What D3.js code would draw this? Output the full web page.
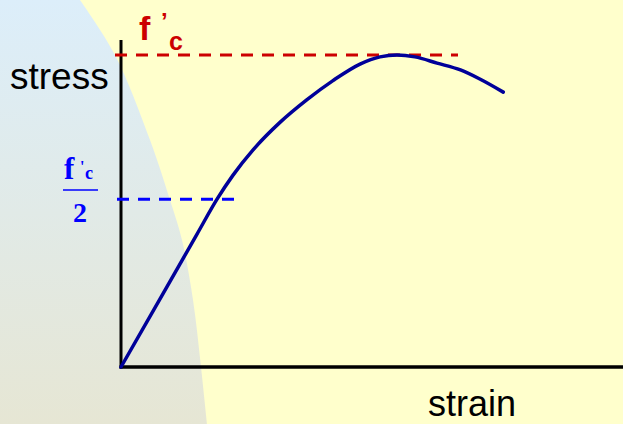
<!DOCTYPE html>
<html><head><meta charset="utf-8">
<script src="https://cdn.jsdelivr.net/npm/d3@7"></script>
<style>html,body{margin:0;padding:0;overflow:hidden;background:#FFFFCC}</style>
</head><body>
<svg id="c" width="623" height="424"></svg>
<script>
// data: stress as fraction of f'c, strain
const strain = [0, 0.000283, 0.000551, 0.000696, 0.000812, 0.000957, 0.001152, 0.001348, 0.001536, 0.001732, 0.001877, 0.002, 0.00213, 0.00229, 0.00246, 0.0026, 0.00277];
const stress = [0, 0.218, 0.426, 0.538, 0.615, 0.696, 0.784, 0.857, 0.918, 0.971, 0.994, 1.0, 0.994, 0.974, 0.952, 0.923, 0.881];
const fcLevels = [1, 0.538];
const axisLabels = ["stress", "strain"];

const svg = d3.select("#c");
const W = 623, H = 424;
const x = d3.scaleLinear().domain([0, 0.0036377]).range([121, 623]);
const y = d3.scaleLinear().domain([0, 1]).range([367, 55]);

// background
const defs = svg.append("defs");
const g = defs.append("linearGradient").attr("id","bg").attr("x1",0).attr("y1",0).attr("x2",0).attr("y2",1);
g.append("stop").attr("offset","0%").attr("stop-color","#DCEEFA");
g.append("stop").attr("offset","100%").attr("stop-color","#E6E6D4");
svg.append("rect").attr("width",W).attr("height",H).attr("fill","#FFFFCC");
const bpts = [[80,0],[115,55],[150,140],[170,200],[182,240],[193,300],[201,367],[207,424]];
const bline = d3.line().curve(d3.curveCatmullRom);
svg.append("path").attr("d", "M0,0 L" + bline(bpts).slice(1) + " L0,424 Z").attr("fill","url(#bg)");

// axes
svg.append("line").attr("x1",x(0)).attr("x2",x(0)).attr("y1",40).attr("y2",y(0)+1.5).attr("stroke","#000").attr("stroke-width",3);
svg.append("line").attr("x1",x(0)-1.5).attr("x2",W).attr("y1",y(0)).attr("y2",y(0)).attr("stroke","#000").attr("stroke-width",3.5);

// dashed reference lines
svg.append("line").attr("x1",115).attr("x2",458).attr("y1",y(fcLevels[0])).attr("y2",y(fcLevels[0]))
  .attr("stroke","#CC0000").attr("stroke-width",3).attr("stroke-dasharray","12,9");
svg.append("line").attr("x1",117).attr("x2",235).attr("y1",y(fcLevels[1])).attr("y2",y(fcLevels[1]))
  .attr("stroke","#0000FF").attr("stroke-width",3).attr("stroke-dasharray","12,9");

// curve
const data = strain.map((s,i)=>[s, stress[i]]);
svg.append("path").datum(data)
  .attr("d", d3.line().x(d=>x(d[0])).y(d=>y(d[1])).curve(d3.curveMonotoneX))
  .attr("fill","none").attr("stroke","#000099").attr("stroke-width",3.5).attr("stroke-linecap","round");

// labels
svg.append("text").attr("x",10).attr("y",89).attr("font-family","Liberation Sans, Arial").attr("font-size",37).attr("fill","#000").text(axisLabels[0]);
svg.append("text").attr("x",428).attr("y",416).attr("font-family","Liberation Sans, Arial").attr("font-size",36).attr("fill","#000").text(axisLabels[1]);

// f'c red
const red = svg.append("g").attr("fill","#CC0000").attr("font-family","Liberation Sans, Arial").attr("font-weight","bold");
red.append("text").attr("x",139).attr("y",40).attr("font-size",34).text("f");
red.append("text").attr("x",161).attr("y",30).attr("font-size",24).text("’");
red.append("text").attr("x",169).attr("y",50).attr("font-size",25).text("c");

// blue fraction
const blue = svg.append("g").attr("fill","#0000FF").attr("font-family","Liberation Serif, Times New Roman").attr("font-weight","bold");
blue.append("text").attr("x",64).attr("y",179).attr("font-size",31).text("f");
blue.append("text").attr("x",80).attr("y",172).attr("font-size",16).text("'");
blue.append("text").attr("x",85).attr("y",179).attr("font-size",18).text("c");
svg.append("line").attr("x1",63).attr("x2",98).attr("y1",190).attr("y2",190).attr("stroke","#0000FF").attr("stroke-width",1.5);
blue.append("text").attr("x",73).attr("y",222).attr("font-size",28).text("2");
</script>
</body></html>
